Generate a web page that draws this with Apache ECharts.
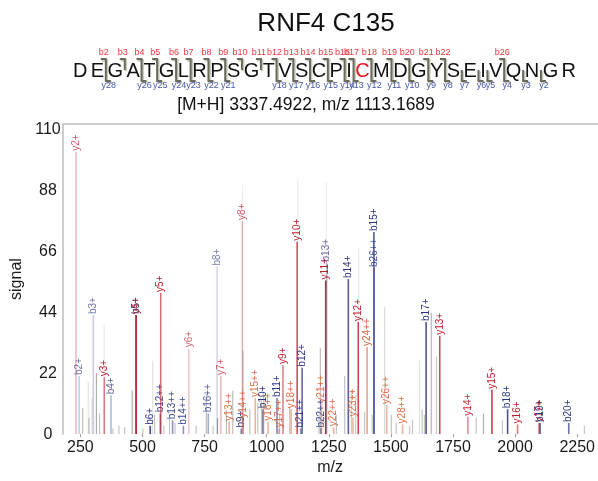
<!DOCTYPE html>
<html><head><meta charset="utf-8">
<script src="https://cdn.jsdelivr.net/npm/echarts@6/dist/echarts.min.js"></script>
<style>html,body{margin:0;padding:0;background:#fff}#c{width:598px;height:481px}</style>
</head><body><div id="c"></div>
<script>
const titleText = 'RNF4 C135';
const precursorText = '[M+H] 3337.4922, m/z 1113.1689';
const sequence = ['D','E','G','A','T','G','L','R','P','S','G','T','V','S','C','P','I','C','M','D','G','Y','S','E','I','V','Q','N','G','R'];
const modifiedResidues = [17];
const bIons = [2,3,4,5,6,7,8,9,10,11,12,13,14,15,16,17,18,19,20,21,22,26];
const yIons = [28,26,25,24,23,22,21,18,17,16,15,14,13,12,11,10,9,8,7,6,5,4,3,2];
const xTicks = [250,500,750,1000,1250,1500,1750,2000,2250];
const yTicks = [0,22,44,66,88,110];

const annotLabels = ['y2+','b2+','b3+','y3+','b4+','b5+','y4+','b6+','b12++','y5+','b13++','b14++','y6+','b16++','b8+','y7+','y13++','b9+','y8+','y14++','y15++','b10+','y16++','b11+','y17++','y9+','y18++','y10+','b21++','b12+','b22++','y21++','y11+','b13+','y22++','b14+','y23++','y12+','y24++','b15+','b26++','y26++','y28++','b17+','y13+','y14+','y15+','b18+','y16+','y17+','b19+','b20+'];
const annotMz = [232.14,245.08,302.10,346.18,373.14,474.18,474.24,531.21,571.78,573.31,621.31,664.82,686.39,764.86,800.39,815.44,848.86,897.44,902.47,905.40,953.93,984.47,1005.43,1041.50,1048.95,1065.53,1098.48,1122.55,1136.99,1142.54,1218.52,1221.03,1237.58,1241.61,1269.56,1328.64,1347.61,1368.62,1404.15,1431.65,1432.63,1483.19,1547.21,1641.79,1696.71,1809.79,1906.85,1969.88,2009.86,2096.89,2100.92,2215.95];
const annotSignal = [102,21,43,20.5,14,43,43,3,7.5,51,5,3,31,7.5,60.5,21,4.5,2,77,5.5,13,9,4.5,13,2,25,9,69.5,2,24,2,11,55.5,62,2.5,56,6,40.5,31.5,73,60,10.5,3.5,40.5,35.5,6.3,16,9,3.5,4,4,4];
const annotAlpha = [0.3,0.25,0.25,0.55,0.35,0.6,1,0.9,0.6,0.65,0.6,0.6,0.25,0.45,0.2,0.3,0.5,0.6,0.3,0.5,0.5,0.6,0.5,0.6,0.5,0.55,0.5,0.75,0.6,0.75,0.6,0.5,0.95,0.3,0.5,0.8,0.5,0.8,0.6,0.8,0.5,0.5,0.5,0.85,0.8,0.5,0.85,0.85,0.6,0.7,0.7,0.7];

const peakMz = [259,281.6,285,296.5,314.6,327.4,345.9,380.9,405,428,458.5,501.5,541,548.6,586,609,631,716,757,784,802,838,863.4,902.4,904.4,931.8,964,979,988,1052,1092.6,1124.8,1210.5,1216,1240.2,1280.4,1313.8,1340.7,1358,1370,1394,1425,1474.6,1501.6,1521.6,1575,1587,1615.4,1626,1635,1662.4,1683.8,1843.3,1872.7,1949,2279];
const peakSignal = [9.5,19,5.7,13,22,7.5,39.5,2,3,2.5,15.8,2,26.5,7,3,6,4,3,14.5,3,5.7,8.7,15.7,90,30,9,11,12.6,15,7,9.8,92,7,31,91,7,21,16,14,67,8,7,46,7,4,3,5,26.6,9,7,43.8,28,6,7.4,5,3];
const peakAlpha = [0.45,0.2,0.45,0.2,0.55,0.4,0.15,0.4,0.4,0.4,0.55,0.4,0.2,0.4,0.4,0.4,0.4,0.4,0.45,0.4,0.6,0.45,0.45,0.12,0.35,0.4,0.4,0.4,0.4,0.4,0.4,0.12,0.4,0.45,0.12,0.4,0.4,0.35,0.35,0.15,0.4,0.4,0.25,0.4,0.4,0.4,0.4,0.2,0.4,0.4,0.5,0.35,0.4,0.55,0.4,0.4];

const FONT = '"Liberation Sans", Arial, sans-serif';
function ionRGB(label){
  const dbl = label.indexOf('++') >= 0;
  if (label[0] === 'y') return dbl ? [215,105,65] : [190,30,45];
  return dbl ? [60,75,150] : [45,55,125];
}
function rgba(c,a){ return 'rgba(' + c[0] + ',' + c[1] + ',' + c[2] + ',' + a + ')'; }

// ---- peptide sequence graphic ----
const SEQ_FONT_SIZE = 20, SEQ_GAP = 3.4, SEQ_CENTER = 324.5, SEQ_Y = 71;
const cv = document.createElement('canvas').getContext('2d');
cv.font = SEQ_FONT_SIZE + 'px ' + FONT;
const widths = sequence.map(s => cv.measureText(s).width);
const totalW = widths.reduce((a,b)=>a+b,0) + SEQ_GAP*(sequence.length-1);
let cx = SEQ_CENTER - totalW/2;
const lefts = [];
widths.forEach(w => { lefts.push(cx); cx += w + SEQ_GAP; });
const graphics = [];
sequence.forEach((s,i) => {
  graphics.push({type:'text', x: lefts[i] + widths[i]/2, y: SEQ_Y,
    style:{text:s, font: SEQ_FONT_SIZE + 'px ' + FONT, fill: modifiedResidues.indexOf(i)>=0 ? '#e8141c' : '#111', align:'center', verticalAlign:'middle'}});
});
const TOP = 59, MID = 70, BOT = 81, HOOK = 5;
for (let k = 1; k < sequence.length; k++) {
  const xb = (lefts[k-1] + widths[k-1] + lefts[k]) / 2;
  const hasB = bIons.indexOf(k) >= 0, hasY = yIons.indexOf(sequence.length - k) >= 0;
  if (!hasB && !hasY) continue;
  const pts = [];
  if (hasB) { pts.push([xb-HOOK, TOP], [xb, TOP]); } else { pts.push([xb, MID]); }
  if (hasY) { pts.push([xb, BOT], [xb+HOOK, BOT]); } else { pts.push([xb, MID]); }
  graphics.push({type:'polyline', shape:{points: pts.map(p=>[p[0]+1.2,p[1]+1.2])}, style:{stroke:'#c8c8bc', lineWidth:2.4, fill:null}});
  graphics.push({type:'polyline', shape:{points: pts}, style:{stroke:'#6a6a5e', lineWidth:2, fill:null}});
  if (hasB) graphics.push({type:'text', x: xb-2, y: 53, style:{text:'b'+k, font:'9px '+FONT, fill:'#e8383d', align:'center', verticalAlign:'middle'}});
  if (hasY) graphics.push({type:'text', x: xb+3, y: 86, style:{text:'y'+(sequence.length-k), font:'9px '+FONT, fill:'#4858a8', align:'center', verticalAlign:'middle'}});
}
graphics.push({type:'text', x: 306, y: 105, style:{text: precursorText, font:'17.5px '+FONT, fill:'#111', align:'center', verticalAlign:'middle'}});
graphics.push({type:'text', x: 326, y: 24, style:{text: titleText, font:'26px '+FONT, fill:'#111', align:'center', verticalAlign:'middle'}});
graphics.push({type:'line', shape:{x1:63, y1:124, x2:598, y2:124}, style:{stroke:'#bdbdbd', lineWidth:1.5}});

const chart = echarts.init(document.getElementById('c'), null, {renderer:'canvas'});
chart.setOption({
  animation:false,
  backgroundColor:'#fff',
  grid:{left:63, right:0, top:124, bottom:38},
  xAxis:{type:'value', min:180, max:2331,
    axisLine:{show:false},
    axisTick:{show:true, customValues:xTicks, length:3, lineStyle:{color:'#999'}},
    axisLabel:{customValues:xTicks, fontSize:16, color:'#1a1a1a', margin:5, fontFamily:FONT, formatter: v => String(v)},
    splitLine:{show:false},
    name:'m/z', nameLocation:'middle', nameGap:22, nameTextStyle:{fontSize:16, color:'#1a1a1a', fontFamily:FONT}},
  yAxis:{type:'value', min:0, max:112,
    axisLine:{show:true, lineStyle:{color:'#bdbdbd', width:1.5}},
    axisTick:{show:false},
    axisLabel:{customValues:yTicks, fontSize:16, color:'#1a1a1a', align:'center', margin:15, fontFamily:FONT, formatter: v => String(v)},
    splitLine:{show:false},
    name:'signal', nameLocation:'middle', nameGap:36, nameRotate:90, nameTextStyle:{fontSize:16, color:'#1a1a1a', fontFamily:FONT}},
  graphic: graphics,
  series:[
    {type:'custom', clip:false, z:1,
      data: peakMz.map((m,i)=>[m, peakSignal[i]]),
      renderItem:function(params, api){
        const p0 = api.coord([api.value(0), 0]), p1 = api.coord([api.value(0), api.value(1)]);
        return {type:'line', shape:{x1:p0[0], y1:p0[1], x2:p1[0], y2:p1[1]},
          style:{stroke: rgba([110,110,95], peakAlpha[params.dataIndex]), lineWidth:1.2}};
      }},
    {type:'custom', clip:false, z:2,
      data: annotMz.map((m,i)=>[m, annotSignal[i]]),
      renderItem:function(params, api){
        const i = params.dataIndex, lab = annotLabels[i], c = ionRGB(lab), a = annotAlpha[i];
        const p0 = api.coord([api.value(0), 0]), p1 = api.coord([api.value(0), api.value(1)]);
        return {type:'group', children:[
          {type:'line', shape:{x1:p0[0], y1:p0[1], x2:p1[0], y2:p1[1]}, style:{stroke: rgba(c,a), lineWidth:1.6}},
          {type:'text', x:p1[0], y:p1[1]-1, rotation:Math.PI/2,
            style:{text:lab, font:'10px '+FONT, fill: rgba(c, Math.min(1, a+0.45)), align:'left', verticalAlign:'middle'}}
        ]};
      }}
  ]
});
</script></body></html>
